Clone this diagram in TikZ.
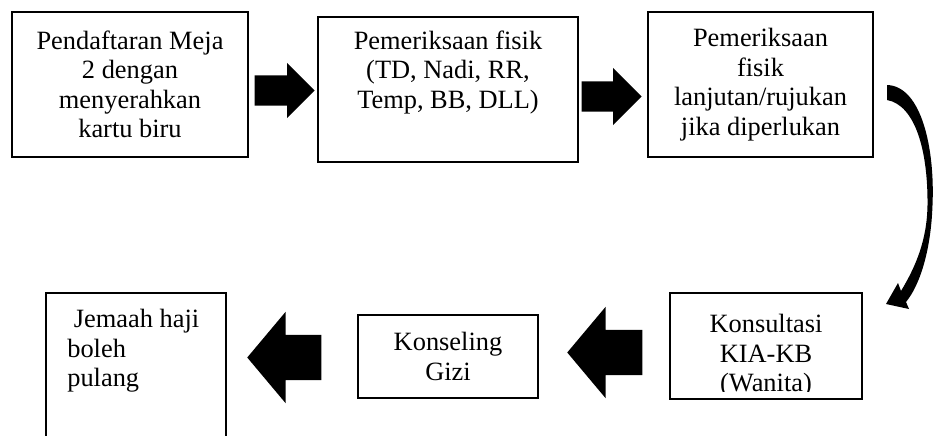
\documentclass[tikz,border=0pt]{standalone}
\usepackage{fontspec}
\setmainfont{Liberation Serif}
\usetikzlibrary{shapes.arrows,positioning}
\tikzset{box/.style={draw, line width=1.8pt, inner sep=0pt, align=center},
txt/.style={inner sep=0pt, font=\fontsize{26.4}{29.5}\selectfont},
blockarrow/.style={single arrow, fill=black, inner xsep=0pt, anchor=tip}
}

\begin{document}
\begin{tikzpicture}[x=1pt, y=-1pt, every node/.style={font=\fontsize{26.4}{29.5}\selectfont}]
        \clip (0,0) rectangle (934,436);

        \node[box, minimum width=236pt, minimum height=145pt] (daftar) at (130,84.5)
              {Pendaftaran Meja\\2 dengan\\menyerahkan\\kartu biru};
        \node[box, minimum width=260pt, minimum height=145pt] (fisik)  at (448,89.5) {};
        \node[txt, align=center, below=14.5pt of fisik.north] (fisik_t)
              {Pemeriksaan fisik\\(TD, Nadi, RR,\\Temp, BB, DLL)};
        \node[box, minimum width=225pt, minimum height=145pt] (lanjut) at (760.5,84.5)
              {Pemeriksaan\\fisik\\lanjutan/rujukan\\jika diperlukan};

        \begin{scope}
          \clip (670,293) rectangle (862,391);
          \node[txt, align=center] (konsul_t) at (766,356) {Konsultasi\\KIA-KB\\(Wanita)};
        \end{scope}
        \node[box, minimum width=192pt, minimum height=106pt] (konsul) at (766,346) {};
        \node[box, minimum width=180pt, minimum height=83pt]  (gizi)   at (448,356.5)
              {Konseling\\Gizi};
        \node[box, minimum width=180pt, minimum height=160pt] (pulang) at (136,373) {};
        \node[txt, align=left, below right=17pt and 22pt of pulang.north west] (pulang_t)
              {~Jemaah haji\\boleh\\pulang};

        \node[blockarrow, minimum height=60pt, inner ysep=15pt,
              single arrow head extend=12.5pt] (a1) at (315,90.5) {};
        \node[blockarrow, minimum height=60pt, inner ysep=15pt,
              single arrow head extend=13.5pt] (a2) at (642,96.5) {};
        \node[blockarrow, minimum height=75pt, inner ysep=22.5pt, shape border rotate=180,
              single arrow head extend=23pt, single arrow tip angle=100] (a3) at (567,352.5) {};
        \node[blockarrow, minimum height=74pt, inner ysep=22.5pt, shape border rotate=180,
              single arrow head extend=23pt, single arrow tip angle=100] (a4) at (247,357.5) {};

        \fill (887,85) .. controls (922,86) and (935,150) .. (932.5,205)
              .. controls (931,250) and (920,285) .. (906,302)
              -- (909,309) -- (886,304) -- (898,283) -- (901,291)
              .. controls (916,266) and (927,240) .. (927.5,205)
              .. controls (928,150) and (915,105) .. (887,100) -- cycle;
\end{tikzpicture}
\end{document}
